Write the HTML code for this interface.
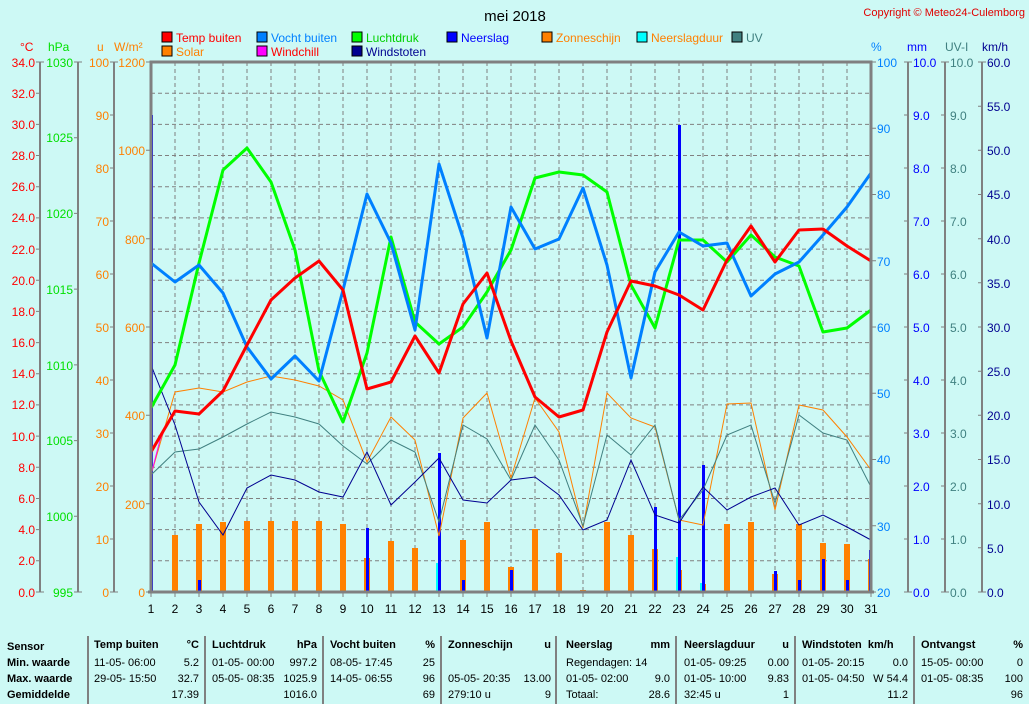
<!DOCTYPE html>
<html><head><meta charset="utf-8"><style>
body{margin:0;width:1029px;height:704px;background:#cdf9f5;overflow:hidden;font-family:"Liberation Sans",sans-serif;}
svg{position:absolute;left:0;top:0}
.t{position:absolute;font-size:11px;white-space:nowrap;color:#000}
.b{font-weight:bold}
.r{text-align:right}
</style></head><body>
<svg width="1029" height="704" font-family="Liberation Sans, sans-serif" font-size="12">
<text x="515" y="21" font-size="15" text-anchor="middle">mei 2018</text>
<text x="1025" y="16" font-size="11" fill="#e00000" text-anchor="end">Copyright © Meteo24-Culemborg</text>
<g font-size="12">
<rect x="162" y="32" width="10" height="10" fill="#ff0000" stroke="#000"/><text x="176" y="42" fill="#ff0000">Temp buiten</text>
<rect x="257" y="32" width="10" height="10" fill="#0080ff" stroke="#000"/><text x="271" y="42" fill="#0080ff">Vocht buiten</text>
<rect x="352" y="32" width="10" height="10" fill="#00ff00" stroke="#000"/><text x="366" y="42" fill="#00d000">Luchtdruk</text>
<rect x="447" y="32" width="10" height="10" fill="#0000ff" stroke="#000"/><text x="461" y="42" fill="#0000ff">Neerslag</text>
<rect x="542" y="32" width="10" height="10" fill="#ff8000" stroke="#000"/><text x="556" y="42" fill="#ff8000">Zonneschijn</text>
<rect x="637" y="32" width="10" height="10" fill="#00ffff" stroke="#000"/><text x="651" y="42" fill="#ff8000">Neerslagduur</text>
<rect x="732" y="32" width="10" height="10" fill="#408080" stroke="#000"/><text x="746" y="42" fill="#408080">UV</text>
<rect x="162" y="46" width="10" height="10" fill="#ff8000" stroke="#000"/><text x="176" y="56" fill="#ff8000">Solar</text>
<rect x="257" y="46" width="10" height="10" fill="#ff00ff" stroke="#000"/><text x="271" y="56" fill="#ff0000">Windchill</text>
<rect x="352" y="46" width="10" height="10" fill="#000090" stroke="#000"/><text x="366" y="56" fill="#000090">Windstoten</text>
</g>
<text x="20" y="51" fill="#ff0000">°C</text>
<text x="48" y="51" fill="#00e000">hPa</text>
<text x="97" y="51" fill="#ff8000">u</text>
<text x="114" y="51" fill="#ff8000">W/m²</text>
<text x="871" y="51" fill="#0080ff">%</text>
<text x="907" y="51" fill="#0000ff">mm</text>
<text x="945" y="51" fill="#408080">UV-I</text>
<text x="982" y="51" fill="#000090">km/h</text>
<g stroke="#808080" stroke-dasharray="4,3" stroke-width="1">
<path d="M151 93.2H871M151 124.4H871M151 155.5H871M151 186.7H871M151 217.9H871M151 249.1H871M151 280.2H871M151 311.4H871M151 342.6H871M151 373.8H871M151 404.9H871M151 436.1H871M151 467.3H871M151 498.5H871M151 529.6H871M151 560.8H871"/>
<path d="M175 62V592M199 62V592M223 62V592M247 62V592M271 62V592M295 62V592M319 62V592M343 62V592M367 62V592M391 62V592M415 62V592M439 62V592M463 62V592M487 62V592M511 62V592M535 62V592M559 62V592M583 62V592M607 62V592M631 62V592M655 62V592M679 62V592M703 62V592M727 62V592M751 62V592M775 62V592M799 62V592M823 62V592M847 62V592"/>
</g>
<g stroke="#808080" stroke-width="2" fill="none">
<path d="M40 62V592M78 62V592M114 62V592M908 62V592M945 62V592M982 62V592"/>
</g>
<g stroke="#808080" stroke-width="1">
<path d="M36 62h8M36 93.2h4M36 124.4h4M36 155.5h4M36 186.7h4M36 217.9h4M36 249.1h4M36 280.2h4M36 311.4h4M36 342.6h4M36 373.8h4M36 404.9h4M36 436.1h4M36 467.3h4M36 498.5h4M36 529.6h4M36 560.8h4M36 592h8"/>
<path d="M74 62h8M74 137.7h4M74 213.4h4M74 289.1h4M74 364.9h4M74 440.6h4M74 516.3h4M74 592h8"/>
<path d="M110 62h8M110 115h4M110 168h4M110 221h4M110 274h4M110 327h4M110 380h4M110 433h4M110 486h4M110 539h4M110 592h8"/>
<path d="M146 62h5M146 150.3h5M146 238.7h5M146 327h5M146 415.3h5M146 503.7h5M146 592h5"/>
<path d="M871 62h5M871 128.3h5M871 194.5h5M871 260.8h5M871 327h5M871 393.3h5M871 459.5h5M871 525.8h5M871 592h5"/>
<path d="M904 62h8M904 115h4M904 168h4M904 221h4M904 274h4M904 327h4M904 380h4M904 433h4M904 486h4M904 539h4M904 592h8"/>
<path d="M941 62h8M941 115h4M941 168h4M941 221h4M941 274h4M941 327h4M941 380h4M941 433h4M941 486h4M941 539h4M941 592h8"/>
<path d="M978 62h8M978 106.2h4M978 150.3h4M978 194.5h4M978 238.7h4M978 282.8h4M978 327h4M978 371.2h4M978 415.3h4M978 459.5h4M978 503.7h4M978 547.8h4M978 592h8"/>
<path d="M151 592v5M175 592v5M199 592v5M223 592v5M247 592v5M271 592v5M295 592v5M319 592v5M343 592v5M367 592v5M391 592v5M415 592v5M439 592v5M463 592v5M487 592v5M511 592v5M535 592v5M559 592v5M583 592v5M607 592v5M631 592v5M655 592v5M679 592v5M703 592v5M727 592v5M751 592v5M775 592v5M799 592v5M823 592v5M847 592v5M871 592v5"/>
</g>
<g fill="#ff0000" text-anchor="end">
<text x="35" y="67">34.0</text><text x="35" y="98">32.0</text><text x="35" y="129">30.0</text><text x="35" y="160">28.0</text><text x="35" y="191">26.0</text><text x="35" y="222">24.0</text><text x="35" y="254">22.0</text><text x="35" y="285">20.0</text><text x="35" y="316">18.0</text><text x="35" y="347">16.0</text><text x="35" y="378">14.0</text><text x="35" y="409">12.0</text><text x="35" y="441">10.0</text><text x="35" y="472">8.0</text><text x="35" y="503">6.0</text><text x="35" y="534">4.0</text><text x="35" y="565">2.0</text><text x="35" y="597">0.0</text>
</g>
<g fill="#00e000" text-anchor="end">
<text x="73" y="67">1030</text><text x="73" y="142">1025</text><text x="73" y="218">1020</text><text x="73" y="294">1015</text><text x="73" y="370">1010</text><text x="73" y="445">1005</text><text x="73" y="521">1000</text><text x="73" y="597">995</text>
</g>
<g fill="#ff8000" text-anchor="end">
<text x="109" y="67">100</text><text x="109" y="120">90</text><text x="109" y="173">80</text><text x="109" y="226">70</text><text x="109" y="279">60</text><text x="109" y="332">50</text><text x="109" y="385">40</text><text x="109" y="438">30</text><text x="109" y="491">20</text><text x="109" y="544">10</text><text x="109" y="597">0</text>
<text x="145" y="67">1200</text><text x="145" y="155">1000</text><text x="145" y="244">800</text><text x="145" y="332">600</text><text x="145" y="420">400</text><text x="145" y="509">200</text><text x="145" y="597">0</text>
</g>
<g fill="#0080ff">
<text x="877" y="67">100</text><text x="877" y="133">90</text><text x="877" y="199">80</text><text x="877" y="266">70</text><text x="877" y="332">60</text><text x="877" y="398">50</text><text x="877" y="464">40</text><text x="877" y="531">30</text><text x="877" y="597">20</text>
</g>
<g fill="#0000ff">
<text x="913" y="67">10.0</text><text x="913" y="120">9.0</text><text x="913" y="173">8.0</text><text x="913" y="226">7.0</text><text x="913" y="279">6.0</text><text x="913" y="332">5.0</text><text x="913" y="385">4.0</text><text x="913" y="438">3.0</text><text x="913" y="491">2.0</text><text x="913" y="544">1.0</text><text x="913" y="597">0.0</text>
</g>
<g fill="#408080">
<text x="950" y="67">10.0</text><text x="950" y="120">9.0</text><text x="950" y="173">8.0</text><text x="950" y="226">7.0</text><text x="950" y="279">6.0</text><text x="950" y="332">5.0</text><text x="950" y="385">4.0</text><text x="950" y="438">3.0</text><text x="950" y="491">2.0</text><text x="950" y="544">1.0</text><text x="950" y="597">0.0</text>
</g>
<g fill="#000090">
<text x="987" y="67">60.0</text><text x="987" y="111">55.0</text><text x="987" y="155">50.0</text><text x="987" y="199">45.0</text><text x="987" y="244">40.0</text><text x="987" y="288">35.0</text><text x="987" y="332">30.0</text><text x="987" y="376">25.0</text><text x="987" y="420">20.0</text><text x="987" y="464">15.0</text><text x="987" y="509">10.0</text><text x="987" y="553">5.0</text><text x="987" y="597">0.0</text>
</g>
<g fill="#000" text-anchor="middle">
<text x="151" y="613">1</text><text x="175" y="613">2</text><text x="199" y="613">3</text><text x="223" y="613">4</text><text x="247" y="613">5</text><text x="271" y="613">6</text><text x="295" y="613">7</text><text x="319" y="613">8</text><text x="343" y="613">9</text><text x="367" y="613">10</text><text x="391" y="613">11</text><text x="415" y="613">12</text><text x="439" y="613">13</text><text x="463" y="613">14</text><text x="487" y="613">15</text><text x="511" y="613">16</text><text x="535" y="613">17</text><text x="559" y="613">18</text><text x="583" y="613">19</text><text x="607" y="613">20</text><text x="631" y="613">21</text><text x="655" y="613">22</text><text x="679" y="613">23</text><text x="703" y="613">24</text><text x="727" y="613">25</text><text x="751" y="613">26</text><text x="775" y="613">27</text><text x="799" y="613">28</text><text x="823" y="613">29</text><text x="847" y="613">30</text><text x="871" y="613">31</text>
</g>
<g fill="#ff8000">
<rect x="150" y="540" width="3" height="52"/>
<rect x="172" y="535" width="6" height="57"/><rect x="196" y="524" width="6" height="68"/><rect x="220" y="522" width="6" height="70"/><rect x="244" y="521" width="6" height="71"/><rect x="268" y="521" width="6" height="71"/><rect x="292" y="521" width="6" height="71"/><rect x="316" y="521" width="6" height="71"/><rect x="340" y="524" width="6" height="68"/><rect x="364" y="558" width="6" height="34"/><rect x="388" y="541" width="6" height="51"/><rect x="412" y="548" width="6" height="44"/><rect x="460" y="540" width="6" height="52"/><rect x="484" y="522" width="6" height="70"/><rect x="508" y="567" width="6" height="25"/><rect x="532" y="529" width="6" height="63"/><rect x="556" y="553" width="6" height="39"/><rect x="580" y="590" width="6" height="2"/><rect x="604" y="522" width="6" height="70"/><rect x="628" y="535" width="6" height="57"/><rect x="652" y="549" width="6" height="43"/><rect x="676" y="570" width="6" height="22"/><rect x="700" y="584" width="6" height="8"/><rect x="724" y="524" width="6" height="68"/><rect x="748" y="522" width="6" height="70"/><rect x="772" y="574" width="6" height="18"/><rect x="796" y="524" width="6" height="68"/><rect x="820" y="543" width="6" height="49"/><rect x="844" y="544" width="6" height="48"/><rect x="868" y="559" width="3" height="33"/>
</g>
<g fill="#00ffff">
<rect x="436" y="563" width="3" height="29"/><rect x="676" y="557" width="3" height="35"/><rect x="700" y="583" width="3" height="9"/>
</g>
<g fill="#0000ff">
<rect x="150" y="115" width="3" height="477"/><rect x="198" y="580" width="3" height="12"/><rect x="366" y="528" width="3" height="64"/><rect x="438" y="453" width="3" height="139"/><rect x="462" y="580" width="3" height="12"/><rect x="510" y="570" width="3" height="22"/><rect x="654" y="507" width="3" height="85"/><rect x="678" y="125" width="3" height="467"/><rect x="702" y="465" width="3" height="127"/><rect x="774" y="571" width="3" height="21"/><rect x="798" y="580" width="3" height="12"/><rect x="822" y="559" width="3" height="33"/><rect x="846" y="580" width="3" height="12"/><rect x="869" y="550" width="2" height="42"/>
</g>
<polyline fill="none" stroke="#ff8000" stroke-width="1" points="151,475 175,392 199,388 223,392 247,382 271,376 295,380 319,386 343,400 367,462 391,417 415,440 439,536 463,418 487,393 511,478 535,398 559,432 583,528 607,393 631,418 655,427 679,520 703,525 727,404 751,403 775,510 799,405 823,410 847,437 871,470"/>
<polyline fill="none" stroke="#408080" stroke-width="1" points="151,475 175,452 199,449 223,437 247,424 271,412 295,417 319,424 343,446 367,464 391,440 415,452 439,522 463,425 487,439 511,480 535,425 559,460 583,526 607,435 631,455 655,425 679,520 703,490 727,435 751,425 775,503 799,415 823,433 847,440 871,487"/>
<polyline fill="none" stroke="#000090" stroke-width="1" points="151,365 175,425 199,502 223,535 247,488 271,475 295,480 319,492 343,497 367,452 391,505 415,482 439,458 463,500 487,503 511,480 535,477 559,495 583,530 607,520 631,460 655,515 679,523 703,487 727,510 751,497 775,488 799,525 823,515 847,527 871,540"/>
<polyline fill="none" stroke="#ff00ff" stroke-width="1" points="151,475 160,440 169,420"/>
<polyline fill="none" stroke="#00ff00" stroke-width="3" stroke-linejoin="round" points="151,408 175,365 199,263 223,170 247,148 271,182 295,250 319,371 343,422 367,353 391,237 415,322 439,344 463,327 487,292 511,250 535,178 559,172 583,175 607,192 631,285 655,328 679,240 703,240 727,262 751,235 775,257 799,266 823,332 847,328 871,310"/>
<polyline fill="none" stroke="#0080ff" stroke-width="3" stroke-linejoin="round" points="151,263 175,282 199,265 223,293 247,347 271,379 295,356 319,381 343,290 367,194 391,243 415,330 439,164 463,238 487,338 511,207 535,249 559,239 583,188 607,265 631,378 655,272 679,232 703,246 727,243 751,296 775,274 799,262 823,235 847,207 871,173"/>
<polyline fill="none" stroke="#ff0000" stroke-width="3" stroke-linejoin="round" points="151,452 175,411 199,414 223,391 247,345 271,300 295,278 319,261 343,290 367,389 391,382 415,336 439,373 463,304 487,273 511,341 535,397 559,417 583,410 607,332 631,281 655,286 679,295 703,310 727,260 751,226 775,262 799,230 823,229 847,246 871,261"/>
<path d="M151 592V62H871V592" fill="none" stroke="#808080" stroke-width="3"/>
<path d="M148 592H874" stroke="#808080" stroke-width="3"/>
<g stroke="#808080" stroke-width="2">
<path d="M88 636V704M205 636V704M323 636V704M441 636V704M556 636V704M676 636V704M795 636V704M914 636V704"/>
</g>
</svg>
<div class="t b" style="left:7px;top:639px;line-height:16px">Sensor<br>Min. waarde<br>Max. waarde<br>Gemiddelde</div>
<div class="t b" style="left:94px;top:639px">Temp buiten</div><div class="t b r" style="left:160px;width:39px;top:639px">°C</div>
<div class="t" style="left:94px;top:655px;line-height:16px">11-05- 06:00<br>29-05- 15:50</div>
<div class="t r" style="left:150px;width:49px;top:655px;line-height:16px">5.2<br>32.7<br>17.39</div>
<div class="t b" style="left:212px;top:639px">Luchtdruk</div><div class="t b r" style="left:280px;width:37px;top:639px">hPa</div>
<div class="t" style="left:212px;top:655px;line-height:16px">01-05- 00:00<br>05-05- 08:35</div>
<div class="t r" style="left:270px;width:47px;top:655px;line-height:16px">997.2<br>1025.9<br>1016.0</div>
<div class="t b" style="left:330px;top:639px">Vocht buiten</div><div class="t b r" style="left:400px;width:35px;top:639px">%</div>
<div class="t" style="left:330px;top:655px;line-height:16px">08-05- 17:45<br>14-05- 06:55</div>
<div class="t r" style="left:400px;width:35px;top:655px;line-height:16px">25<br>96<br>69</div>
<div class="t b" style="left:448px;top:639px">Zonneschijn</div><div class="t b r" style="left:520px;width:31px;top:639px">u</div>
<div class="t" style="left:448px;top:671px;line-height:16px">05-05- 20:35<br>279:10 u</div>
<div class="t r" style="left:500px;width:51px;top:671px;line-height:16px">13.00<br>9</div>
<div class="t b" style="left:566px;top:639px">Neerslag</div><div class="t b r" style="left:630px;width:40px;top:639px">mm</div>
<div class="t" style="left:566px;top:655px;line-height:16px">Regendagen: 14<br>01-05- 02:00<br>Totaal:</div>
<div class="t r" style="left:630px;width:40px;top:671px;line-height:16px">9.0<br>28.6</div>
<div class="t b" style="left:684px;top:639px">Neerslagduur</div><div class="t b r" style="left:760px;width:29px;top:639px">u</div>
<div class="t" style="left:684px;top:655px;line-height:16px">01-05- 09:25<br>01-05- 10:00<br>32:45 u</div>
<div class="t r" style="left:740px;width:49px;top:655px;line-height:16px">0.00<br>9.83<br>1</div>
<div class="t b" style="left:802px;top:639px">Windstoten&nbsp; km/h</div>
<div class="t" style="left:802px;top:655px;line-height:16px">01-05- 20:15<br>01-05- 04:50</div>
<div class="t r" style="left:850px;width:58px;top:655px;line-height:16px">0.0<br>W 54.4<br>11.2</div>
<div class="t b" style="left:921px;top:639px">Ontvangst</div><div class="t b r" style="left:990px;width:33px;top:639px">%</div>
<div class="t" style="left:921px;top:655px;line-height:16px">15-05- 00:00<br>01-05- 08:35</div>
<div class="t r" style="left:980px;width:43px;top:655px;line-height:16px">0<br>100<br>96</div>
</body></html>
